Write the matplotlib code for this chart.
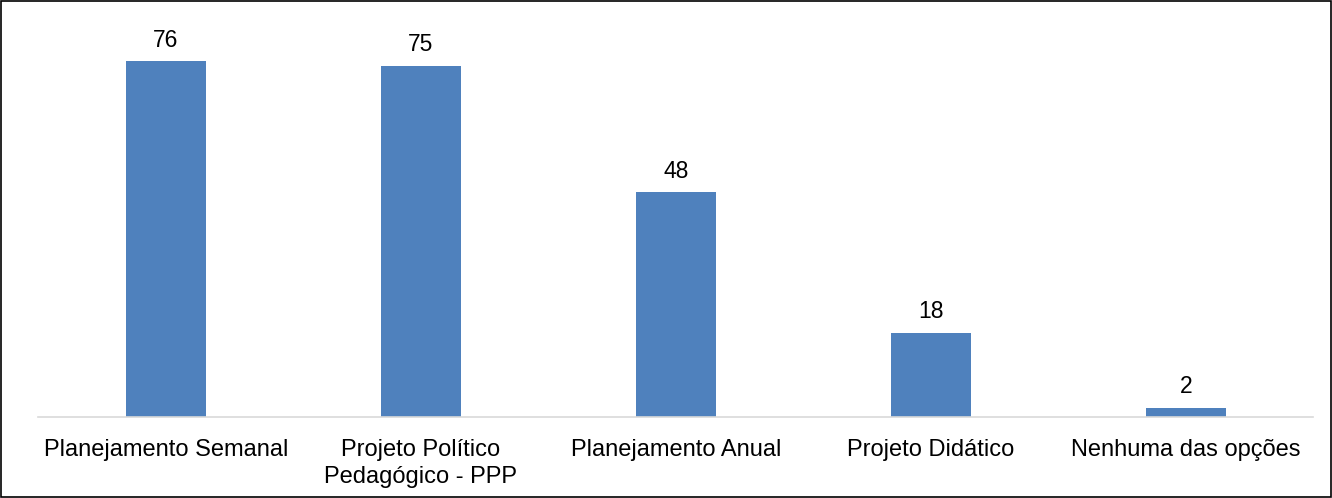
import matplotlib.pyplot as plt
from matplotlib.patches import Rectangle

plt.rcParams['font.family'] = ['Liberation Sans', 'DejaVu Sans']

categorias = ['Planejamento Semanal', 'Projeto Político\nPedagógico - PPP',
              'Planejamento Anual', 'Projeto Didático', 'Nenhuma das opções']
valores = [76, 75, 48, 18, 2]

fig = plt.figure(figsize=(13.32, 4.98), dpi=100)
ax = fig.add_axes([0.0289, 0.1627, 0.957, 0.797])

x = range(len(categorias))
barras = ax.bar(x, valores, width=0.315, color='#4F81BD', zorder=2)

for b, v in zip(barras, valores):
    ax.annotate(str(v), (b.get_x() + b.get_width() / 2, v), xytext=(0, 7),
                textcoords='offset points', ha='center', va='bottom', fontsize=16.5)

ax.set_xlim(-0.5, len(categorias) - 0.5)
ax.set_ylim(0, 84.8)
ax.set_xticks(list(x))
ax.set_xticklabels(categorias, fontsize=17, linespacing=1.3)
ax.tick_params(axis='x', length=0, pad=16)
ax.set_yticks([])
for s in ['top', 'left', 'right']:
    ax.spines[s].set_visible(False)
ax.spines['bottom'].set_color('#D9D9D9')
ax.spines['bottom'].set_linewidth(1.2)

# moldura em volta da figura
fig.patches.append(Rectangle((0.001, 0.002), 0.998, 0.996, transform=fig.transFigure,
                             fill=False, edgecolor='black', linewidth=1.2))

fig.savefig('out.png', dpi=100)
